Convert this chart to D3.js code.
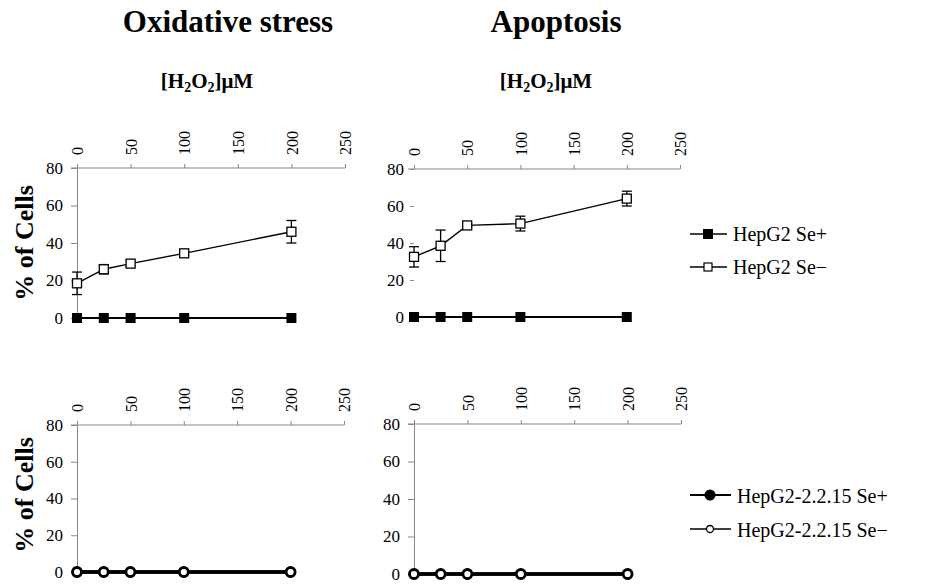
<!DOCTYPE html>
<html>
<head>
<meta charset="utf-8">
<script src="https://cdn.jsdelivr.net/npm/d3@7"></script>
<style>
  body { margin: 0; background: #fff; }
  text { font-family: "Liberation Serif", "Times New Roman", serif; fill: #000; }
</style>
</head>
<body>
<div id="chart"></div>
<script>
// data
const doses = [0, 25, 50, 100, 200];
const xTicks = [0, 50, 100, 150, 200, 250];
const yTicks = [0, 20, 40, 60, 80];

const oxHepSePlus = [0, 0, 0, 0, 0];
const oxHepSeMinus = [18.5, 26, 29, 34.5, 46];
const oxHepSeMinusErr = [6, 2.5, 1.5, 1, 6];

const apoHepSePlus = [0, 0, 0, 0, 0];
const apoHepSeMinus = [32.5, 38.5, 49.5, 50.5, 64];
const apoHepSeMinusErr = [5.5, 8.5, 1, 4, 4];

const oxHbvSePlus = [0, 0, 0, 0, 0];
const oxHbvSeMinus = [0, 0, 0, 0, 0];
const apoHbvSePlus = [0, 0, 0, 0, 0];
const apoHbvSeMinus = [0, 0, 0, 0, 0];

const titles = ["Oxidative stress", "Apoptosis"];
const legendTop = ["HepG2 Se+", "HepG2 Se\u2212"];
const legendBottom = ["HepG2-2.2.15 Se+", "HepG2-2.2.15 Se\u2212"];

const width = 929, height = 586;
const serif = "'Liberation Serif', 'Times New Roman', serif";

const svg = d3.select("#chart").append("svg")
    .attr("width", width)
    .attr("height", height);

// panels
// ---------------------------------------------------------
const panels = [
    {x0: 77, x1: 345, y0: 318, y1: 168, shape: "square", yLine: true,
     plus: oxHepSePlus, minus: oxHepSeMinus, err: oxHepSeMinusErr},
    {x0: 414, x1: 680, y0: 317, y1: 169, shape: "square", yLine: false,
     plus: apoHepSePlus, minus: apoHepSeMinus, err: apoHepSeMinusErr},
    {x0: 77, x1: 344, y0: 572, y1: 425, shape: "circle", yLine: true,
     plus: oxHbvSePlus, minus: oxHbvSeMinus, err: null},
    {x0: 414, x1: 681, y0: 574, y1: 424, shape: "circle", yLine: true,
     plus: apoHbvSePlus, minus: apoHbvSeMinus, err: null}
];

panels.forEach(p => {
    let x = d3.scaleLinear().domain([0, 250]).range([p.x0, p.x1]);
    let y = d3.scaleLinear().domain([0, 80]).range([p.y0, p.y1]);
    let g = svg.append("g");

    // y axis
    let yAxis = g.append("g")
        .attr("transform", `translate(${p.x0},0)`)
        .call(d3.axisLeft(y).tickValues(yTicks).tickSize(p.yLine ? 6 : 4).tickPadding(p.yLine ? 8 : 6).tickSizeOuter(0))
        .attr("font-family", serif)
        .attr("font-size", 17);
    yAxis.select(".domain").attr("stroke", "#888").attr("stroke-opacity", p.yLine ? 1 : 0);
    yAxis.selectAll(".tick line").attr("stroke", "#888");
    yAxis.selectAll("text").style("font-family", serif).style("font-size", "17px");

    // x axis on top at y = 80
    let xAxis = g.append("g")
        .attr("transform", `translate(0,${p.y1})`)
        .call(d3.axisTop(x).tickValues(xTicks).tickSize(4).tickSizeOuter(0))
        .attr("font-family", serif)
        .attr("font-size", 16);
    xAxis.select(".domain").attr("stroke", "#888")
        .attr("d", `M${p.x0 - 6},0H${p.x1}`);
    xAxis.selectAll(".tick line").attr("stroke", "#888");
    xAxis.selectAll("text")
        .attr("transform", "rotate(-90)")
        .attr("x", 13)
        .attr("y", 0)
        .attr("dy", "0.35em")
        .style("text-anchor", "start")
        .style("font-family", serif)
        .style("font-size", "16px");

    let line = d3.line().x((d, i) => x(doses[i])).y(d => y(d));

    if (p.shape === "square") {
        // Se- error bars
        let eb = g.append("g").attr("stroke", "#000").attr("stroke-width", 1.3);
        p.minus.forEach((v, i) => {
            let cx = x(doses[i]);
            eb.append("line").attr("x1", cx).attr("x2", cx)
                .attr("y1", y(v - p.err[i])).attr("y2", y(v + p.err[i]));
            [v - p.err[i], v + p.err[i]].forEach(e => {
                eb.append("line").attr("x1", cx - 5).attr("x2", cx + 5)
                    .attr("y1", y(e)).attr("y2", y(e));
            });
        });
        g.append("path").datum(p.minus).attr("d", line)
            .attr("fill", "none").attr("stroke", "#000").attr("stroke-width", 1.4);
        g.append("path").datum(p.plus).attr("d", line)
            .attr("fill", "none").attr("stroke", "#000").attr("stroke-width", 2);
        g.selectAll(".sqPlus").data(p.plus).enter().append("rect")
            .attr("x", (d, i) => x(doses[i]) - 5).attr("y", d => y(d) - 5)
            .attr("width", 10).attr("height", 10).attr("fill", "#000");
        g.selectAll(".sqMinus").data(p.minus).enter().append("rect")
            .attr("x", (d, i) => x(doses[i]) - 4.5).attr("y", d => y(d) - 4.5)
            .attr("width", 9).attr("height", 9)
            .attr("fill", "#fff").attr("stroke", "#000").attr("stroke-width", 1.3);
    } else {
        g.append("path").datum(p.plus).attr("d", line)
            .attr("fill", "none").attr("stroke", "#000").attr("stroke-width", 3.5);
        g.selectAll(".cPlus").data(p.plus).enter().append("circle")
            .attr("cx", (d, i) => x(doses[i])).attr("cy", d => y(d)).attr("r", 5.5)
            .attr("fill", "#000");
        g.append("path").datum(p.minus).attr("d", line)
            .attr("fill", "none").attr("stroke", "#000").attr("stroke-width", 3.5);
        g.selectAll(".cMinus").data(p.minus).enter().append("circle")
            .attr("cx", (d, i) => x(doses[i])).attr("cy", d => y(d)).attr("r", 4.5)
            .attr("fill", "#fff").attr("stroke", "#000").attr("stroke-width", 2.8);
    }
});

// titles
// ---------------------------------------------------------
svg.selectAll(".title").data(titles).enter().append("text")
    .attr("x", (d, i) => [228, 556][i])
    .attr("y", 32)
    .attr("text-anchor", "middle")
    .style("font-size", "31px")
    .style("font-weight", "bold")
    .text(d => d);

[207, 546].forEach(cx => {
    let t = svg.append("text")
        .attr("x", cx).attr("y", 88)
        .attr("text-anchor", "middle")
        .style("font-size", "21px")
        .style("font-weight", "bold");
    t.append("tspan").text("[H");
    t.append("tspan").attr("dy", 4).style("font-size", "14px").text("2");
    t.append("tspan").attr("dy", -4).text("O");
    t.append("tspan").attr("dy", 4).style("font-size", "14px").text("2");
    t.append("tspan").attr("dy", -4).text("]\u03bcM");
});

[243, 495].forEach(cy => {
    svg.append("text")
        .attr("transform", `translate(33,${cy}) rotate(-90)`)
        .attr("text-anchor", "middle")
        .style("font-size", "26px")
        .style("font-weight", "bold")
        .text("% of Cells");
});

// legends
// ---------------------------------------------------------
let lg1 = svg.append("g");
legendTop.forEach((label, i) => {
    let ly = [234, 267][i];
    lg1.append("line").attr("x1", 690).attr("x2", 727).attr("y1", ly).attr("y2", ly)
        .attr("stroke", "#000").attr("stroke-width", 1.4);
    if (i === 0) {
        lg1.append("rect").attr("x", 703).attr("y", ly - 5).attr("width", 10).attr("height", 10)
            .attr("fill", "#000");
    } else {
        lg1.append("rect").attr("x", 704).attr("y", ly - 4).attr("width", 8).attr("height", 8)
            .attr("fill", "#fff").attr("stroke", "#000").attr("stroke-width", 1.2);
    }
    lg1.append("text").attr("x", 733).attr("y", ly + 7)
        .style("font-size", "20px").text(label);
});

let lg2 = svg.append("g");
legendBottom.forEach((label, i) => {
    let ly = [495, 529][i];
    lg2.append("line").attr("x1", 690).attr("x2", 731).attr("y1", ly).attr("y2", ly)
        .attr("stroke", "#000").attr("stroke-width", i === 0 ? 2 : 1.4);
    if (i === 0) {
        lg2.append("circle").attr("cx", 710).attr("cy", ly).attr("r", 5.5).attr("fill", "#000");
    } else {
        lg2.append("circle").attr("cx", 710).attr("cy", ly).attr("r", 3.5)
            .attr("fill", "#fff").attr("stroke", "#000").attr("stroke-width", 1.3);
    }
    lg2.append("text").attr("x", 737).attr("y", ly + 8)
        .style("font-size", "20px").text(label);
});
</script>
</body>
</html>
